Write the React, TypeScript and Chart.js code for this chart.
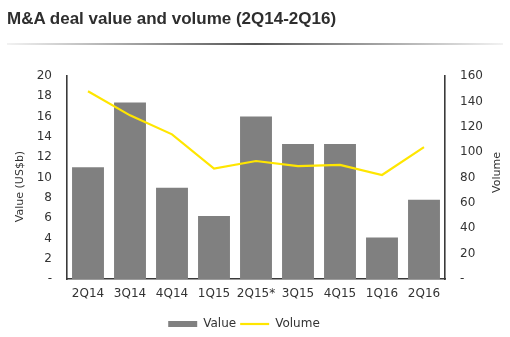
import React, { useEffect, useRef } from "react";
import { Chart, registerables } from "chart.js";

Chart.register(...registerables);

const categories = ["2Q14", "3Q14", "4Q14", "1Q15", "2Q15*", "3Q15", "4Q15", "1Q16", "2Q16"];
const dealValue = [11.0, 17.4, 9.0, 6.2, 16.0, 13.3, 13.3, 4.1, 7.8];
const dealVolume = [148, 129, 114, 87, 93, 89, 90, 82, 104];
const valueTicks = [0, 2, 4, 6, 8, 10, 12, 14, 16, 18, 20];
const volumeTicks = [0, 20, 40, 60, 80, 100, 120, 140, 160];
const leftTitle = "Value (US$b)";
const rightTitle = "Volume";

const FAMILY = "'DejaVu Sans', Verdana, sans-serif";
const TICK_FONT = { family: FAMILY, size: 12 };
const TICK_COLOR = "#333333";
const AXIS_COLOR = "#3a3a3a";

const axisTitles = {
  id: "axisTitles",
  afterDraw(chart: any) {
    const ctx = chart.ctx;
    const draw = (text: string, x: number, y: number) => {
      ctx.save();
      ctx.translate(x, y);
      ctx.rotate(-Math.PI / 2);
      ctx.font = `11px ${FAMILY}`;
      ctx.fillStyle = TICK_COLOR;
      ctx.textAlign = "center";
      ctx.textBaseline = "middle";
      ctx.fillText(text, 0, 0);
      ctx.restore();
    };
    const a = chart.chartArea;
    const mid = (a.top + a.bottom) / 2;
    draw(leftTitle, 20, mid + 9);
    draw(rightTitle, 497, mid - 5);
  },
};

const legendShift = {
  id: "legendShift",
  afterLayout(chart: any) {
    const lg = chart.legend;
    if (lg) {
      lg.left -= 11;
      lg.right -= 11;
      lg.top += 3;
      lg.bottom += 3;
    }
  },
};

export default function App() {
  const ref = useRef<HTMLCanvasElement | null>(null);

  useEffect(() => {
    if (!ref.current) return;
    const chart = new Chart(ref.current, {
      type: "bar",
      data: {
        labels: categories,
        datasets: [
          {
            type: "line",
            label: "Volume",
            data: dealVolume,
            yAxisID: "y1",
            borderColor: "#ffe600",
            backgroundColor: "#ffe600",
            borderWidth: 2.2,
            pointRadius: 0,
            tension: 0,
          },
          {
            type: "bar",
            label: "Value",
            data: dealValue,
            yAxisID: "y",
            backgroundColor: "#808080",
            borderWidth: 0,
            categoryPercentage: 0.76,
            barPercentage: 1,
          },
        ],
      },
      options: {
        animation: false,
        responsive: false,
        maintainAspectRatio: false,
        layout: { padding: { top: 76, left: 0, right: 0, bottom: 0 } },
        plugins: {
          tooltip: { enabled: false },
          legend: {
            position: "bottom",
            labels: {
              font: TICK_FONT,
              color: TICK_COLOR,
              usePointStyle: true,
              pointStyleWidth: 29,
              boxHeight: 6,
              padding: 4,
              sort: (a: any, b: any) => b.datasetIndex - a.datasetIndex,
              generateLabels: (c: any) =>
                c.data.datasets.map((ds: any, i: number) => ({
                  text: ds.label,
                  datasetIndex: i,
                  fillStyle: ds.type === "bar" ? "#808080" : "#ffe600",
                  strokeStyle: ds.type === "bar" ? "#808080" : "#ffe600",
                  lineWidth: ds.type === "bar" ? 0 : 2.2,
                  pointStyle: ds.type === "bar" ? "rect" : "line",
                  fontColor: TICK_COLOR,
                  hidden: false,
                })),
            },
          },
        },
        scales: {
          x: {
            grid: { display: false, drawTicks: false },
            border: { display: true, color: AXIS_COLOR, width: 1.6 },
            ticks: { font: TICK_FONT, color: TICK_COLOR, padding: 8, maxRotation: 0, autoSkip: false },
            afterFit: (s: any) => { s.height = 32; },
          },
          y: {
            position: "left",
            min: 0,
            max: 20,
            grid: { display: false, drawTicks: false },
            border: { display: true, color: AXIS_COLOR, width: 1.6 },
            afterBuildTicks: (s: any) => { s.ticks = valueTicks.map((v) => ({ value: v })); },
            ticks: {
              font: TICK_FONT,
              color: TICK_COLOR,
              padding: 15,
              callback: (v: any) => (Number(v) === 0 ? "-" : String(v)),
            },
            afterFit: (s: any) => { s.width = 67; },
          },
          y1: {
            position: "right",
            min: 0,
            max: 160,
            grid: { display: false, drawTicks: false },
            border: { display: true, color: AXIS_COLOR, width: 1.6 },
            afterBuildTicks: (s: any) => { s.ticks = volumeTicks.map((v) => ({ value: v })); },
            ticks: {
              font: TICK_FONT,
              color: TICK_COLOR,
              padding: 15,
              callback: (v: any) => (Number(v) === 0 ? "-" : String(v)),
            },
            afterFit: (s: any) => { s.width = 65; },
          },
        },
      },
      plugins: [axisTitles, legendShift],
    });
    return () => chart.destroy();
  }, []);

  return (
    <div style={{ position: "fixed", left: 0, top: 0, width: 510, height: 337, background: "#fff" }}>
      <canvas ref={ref} width={510} height={337} style={{ position: "absolute", left: 0, top: 0 }} />
      <div
        style={{
          position: "absolute",
          left: 7,
          top: 8,
          fontFamily: "'Liberation Sans', Arial, sans-serif",
          fontWeight: "bold",
          fontSize: 17,
          lineHeight: "22px",
          color: "#2e2e2e",
          whiteSpace: "nowrap",
        }}
      >
        M&amp;A deal value and volume (2Q14-2Q16)
      </div>
      <div
        style={{
          position: "absolute",
          left: 7,
          top: 43,
          width: 496,
          height: 2,
          background: "linear-gradient(to right, #f2f2f2, #555 50%, #f2f2f2)",
        }}
      />
    </div>
  );
}
